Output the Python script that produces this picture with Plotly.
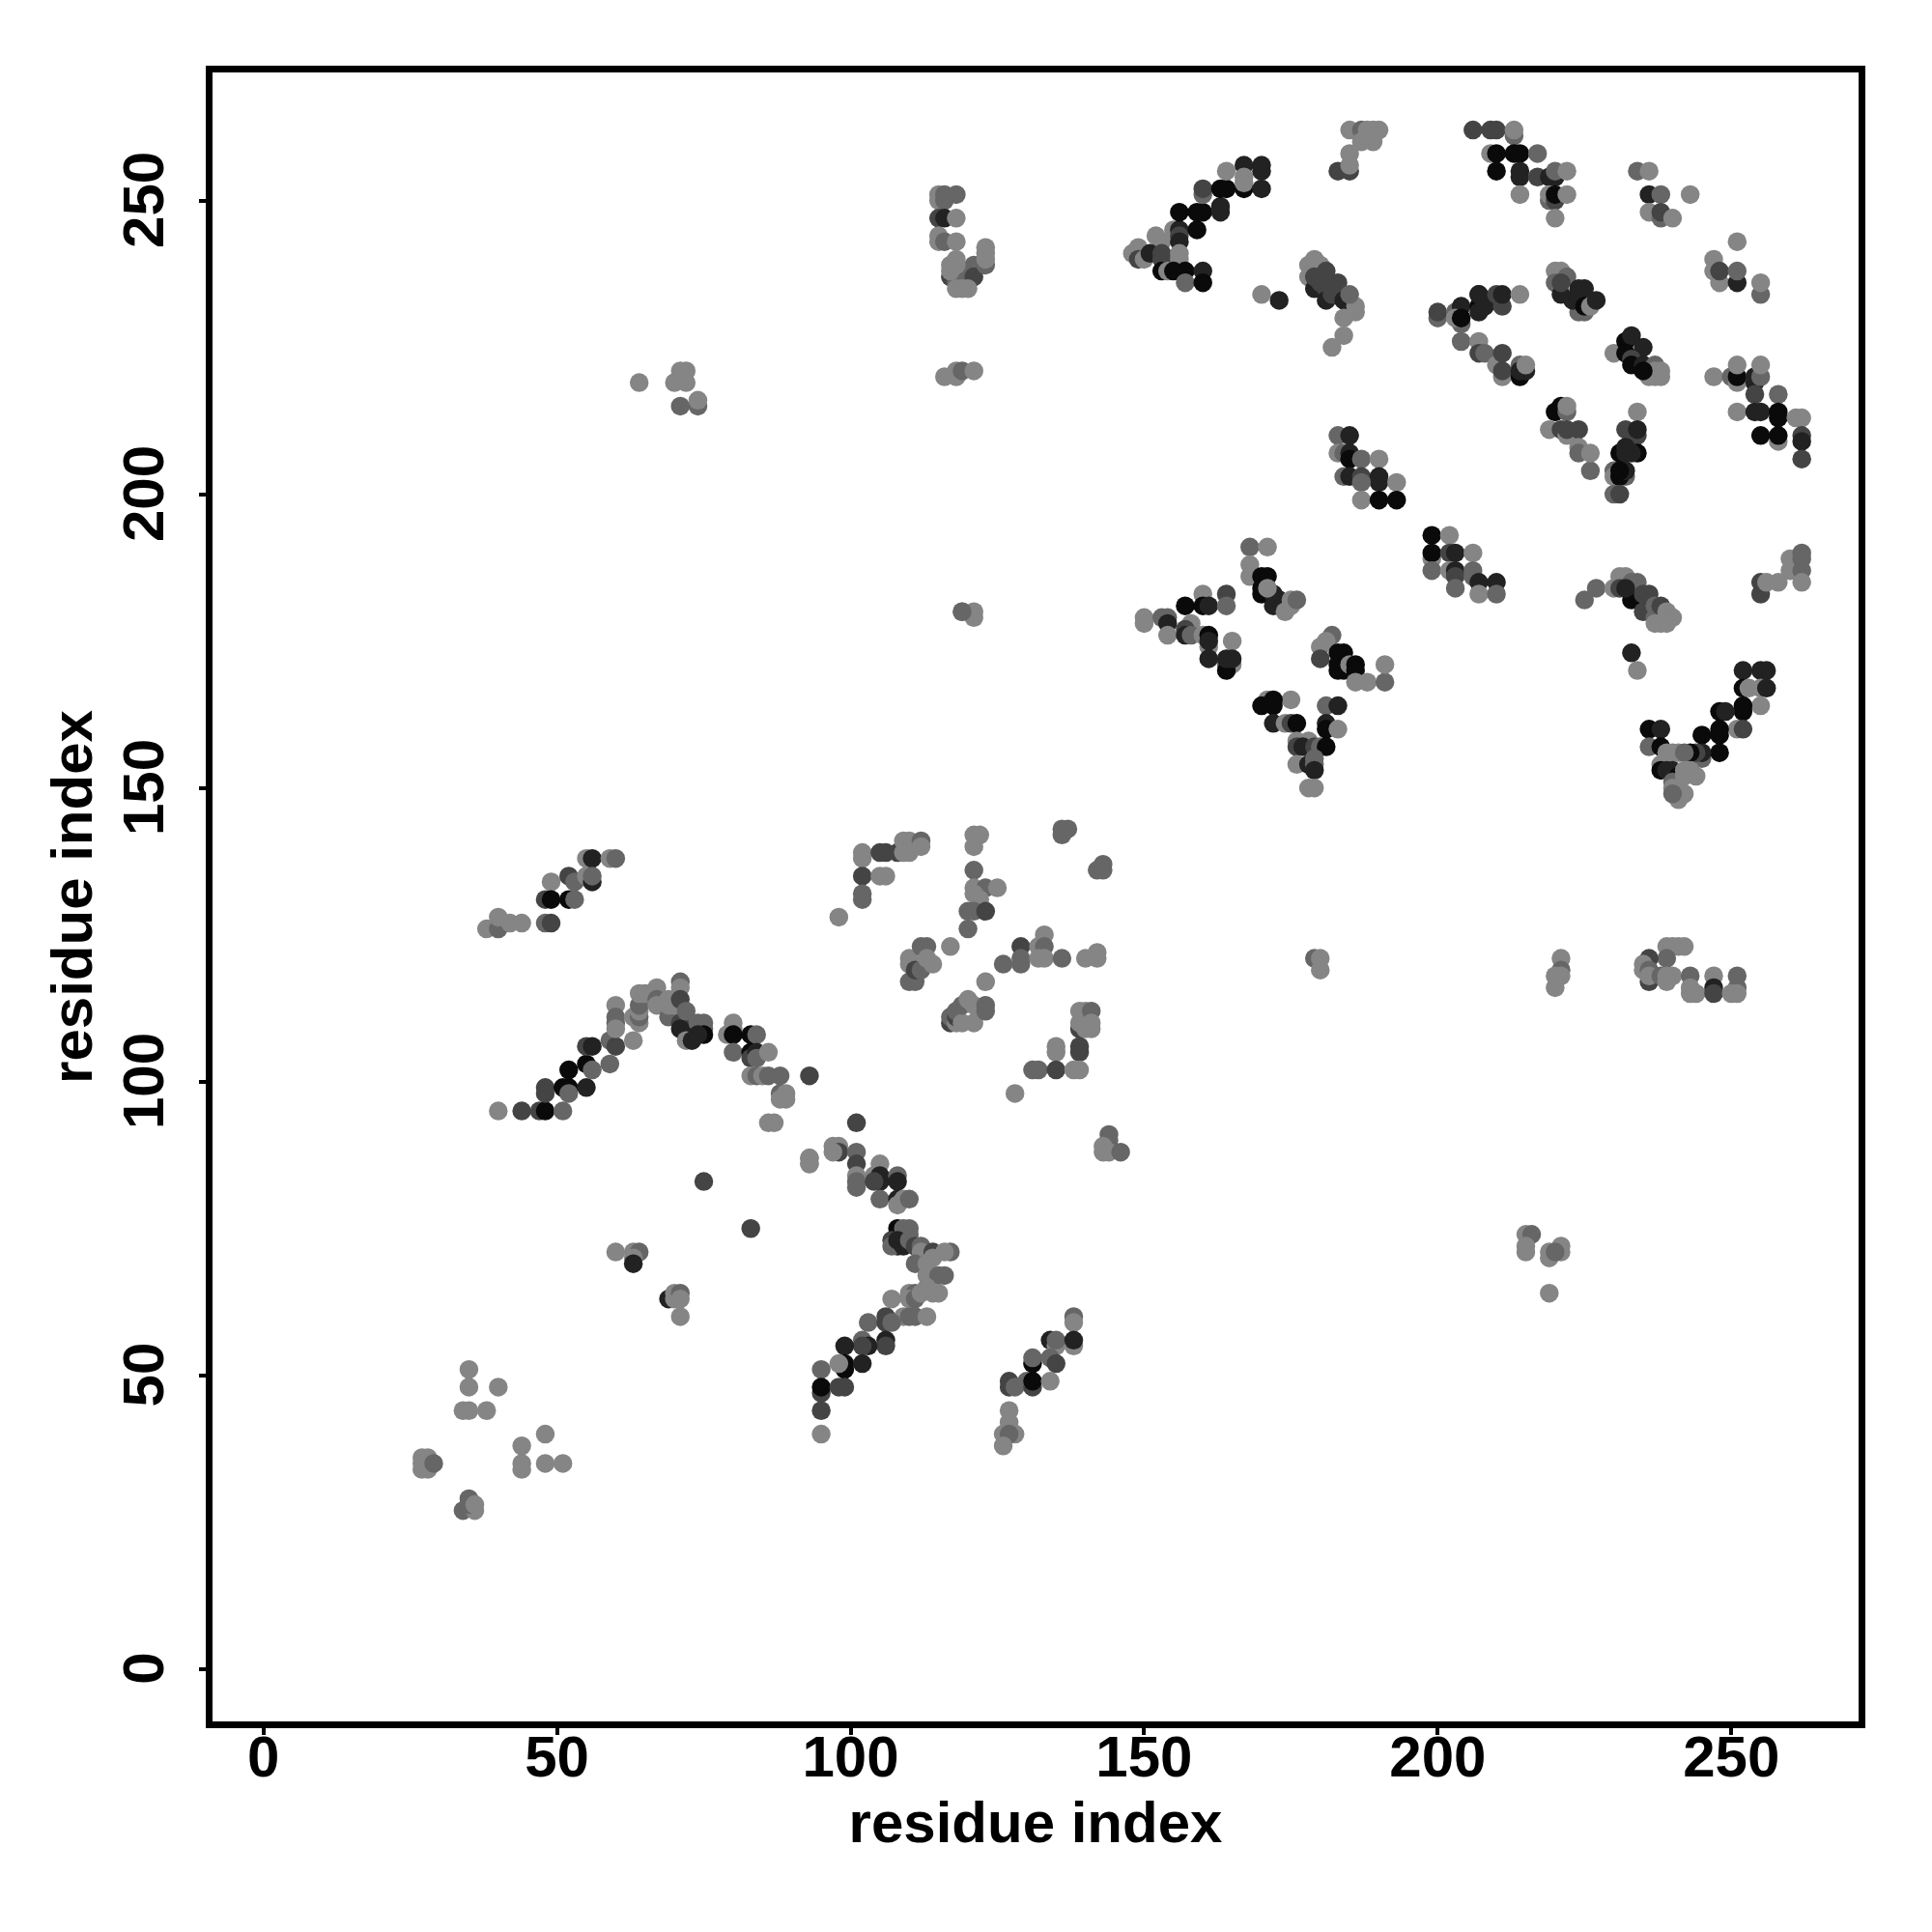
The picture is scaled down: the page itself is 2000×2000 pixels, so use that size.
import plotly.graph_objects as go

# residue pairs, by region; shade = gray level of each point (0 black .. 255 white)
a_x = [148,149,149,150,151,152,153,151,153,153,153,154,155,156,156,156,156,156,155,157,157,160,160,156,159,159,160,160,160,163,163,163,164,164,167,167,167,167,170,170,170]
a_y = [241,242,240,240,241,244,243,241,240,241,238,238,245,245,244,243,240,241,238,238,236,238,236,248,245,248,248,251,252,249,248,252,252,255,256,252,254,253,256,255,252]
a_g = [133,133,68,133,133,133,133,34,68,68,10,133,133,34,68,34,133,133,10,10,102,34,10,10,10,10,10,102,68,34,34,10,10,133,34,10,133,133,34,34,34]

b_x = [183,185,185,185,187,187,188,189,189,190,188,185,170,173]
b_y = [255,255,262,258,262,260,262,260,262,262,261,256,234,233]
b_g = [68,68,133,133,102,133,133,133,133,133,133,133,133,34]

c_x = [178,178,179,179,180,179,180,181,181,182,183,184,184,184,182,186,186,185,181]
c_y = [239,237,240,235,239,237,236,235,233,234,236,233,230,227,225,232,231,234,238]
c_g = [133,133,133,34,133,68,68,68,34,68,68,34,133,133,133,133,133,102,68]

d_x = [150,150,153,154,154,154,157,160,160,161,164,164,158,157,157,158,160,161,161,161,161,165,164,165,164,165,164]
d_y = [179,178,179,179,178,176,181,183,181,181,183,181,178,177,176,176,176,174,176,175,172,175,171,171,170,172,172]
d_g = [133,133,102,102,34,133,10,133,10,34,68,102,133,68,34,102,133,133,10,34,34,133,102,133,10,34,34]

e_x = [168,171,168,168,170,171,170,170,172,172,173,171,174,175,175,176]
e_y = [191,191,188,186,186,186,184,183,181,183,182,184,180,182,181,182]
e_g = [102,133,133,133,10,10,10,10,34,34,34,133,133,133,133,102]

f_x = [182,180,181,180,183,184,183,183,184,185,186,186,186,188,191,191]
f_y = [176,174,175,172,173,173,170,171,170,171,171,170,168,168,168,171]
f_g = [102,133,133,68,10,10,10,10,10,133,10,10,133,133,102,133]

g_x = [171,175,170,172,172,172,174,175,176,181,183,181,181,183,178,176,176,177,179,180,181,176,178,179,179,179,178,179]
g_y = [165,165,164,165,164,161,161,161,161,164,164,161,160,160,158,158,157,157,157,157,157,154,154,155,154,153,150,150]
g_g = [133,133,10,10,10,34,133,68,10,102,34,34,10,133,133,133,68,34,68,102,10,133,34,102,102,34,133,133]

h_x = [206,209,210,213,213,209,210,213,214,217,210,214,214,217,219,220,220,222,214,219,219,220,220,222,220]
h_y = [262,262,262,261,262,258,258,258,258,258,255,255,254,254,254,254,255,255,251,250,251,250,251,251,247]
h_g = [68,68,68,102,133,133,10,10,10,102,10,34,34,68,34,34,102,133,133,102,133,68,10,133,133]

i_x = [234,236,236,238,243,236,238,238,240,251,247,247,248,248,251,251,255,255]
i_y = [255,255,251,251,251,248,247,248,247,243,240,238,236,238,236,238,234,236]
i_g = [102,133,34,102,133,133,102,68,133,133,133,133,133,68,34,102,102,133]

j_x = [220,221,220,222,221,224,225,221,224,225,223,225,226,227]
j_y = [238,238,236,237,234,235,235,236,231,231,233,232,232,233]
j_g = [133,133,102,102,34,34,34,68,102,102,34,10,133,34]

k_x = [200,200,203,204,204,203,204,207,207,207,208,207,210,211,211,214]
k_y = [230,231,231,232,229,230,230,234,232,231,232,234,234,232,234,234]
k_g = [102,68,102,34,102,133,10,34,10,34,34,34,68,68,34,133]

l_x = [204,207,207,208,210,211,211,211,214,214,215,214,215]
l_y = [226,226,224,224,222,220,221,224,222,220,221,221,222]
l_g = [102,133,68,102,133,133,68,68,102,10,34,34,133]

m_x = [230,232,233,232,235,233,233,235,236,237,238,237,238,237,235]
m_y = [224,226,227,224,225,223,222,222,220,220,220,222,221,221,221]
m_g = [133,10,34,10,34,68,10,34,133,133,133,102,133,133,10]

n_x = [247,250,251,251,251,254,254,255,255,254,258,251,254,255,258,258,258,255,258,261,262,262,262,262]
n_y = [220,220,219,220,222,219,220,220,222,217,217,214,214,214,214,213,209,210,210,213,213,210,209,206]
n_g = [133,102,133,10,133,34,34,102,133,68,102,133,34,34,10,10,133,10,10,133,133,68,34,68]

o_x = [220,221,222,222,219,221,222,224,222,224,224,226,226]
o_y = [214,215,214,215,211,211,210,211,211,208,207,204,207]
o_g = [10,10,102,133,133,68,133,68,68,133,102,102,133]

p_x = [234,232,234,234,231,232,232,234,233,230,230,232,231,232,231,230,231]
p_y = [214,211,210,211,207,208,207,207,207,204,203,203,203,204,204,200,200]
p_g = [133,68,68,34,10,34,34,10,34,102,133,102,10,34,10,102,68]

q_x = [199,202,199,199,202,203,206,199,202,203,203,206,206,207,210,207,210,203]
q_y = [193,193,189,190,190,190,190,187,187,187,186,187,186,185,185,183,183,184]
q_g = [10,133,133,10,68,34,133,102,133,34,68,102,102,34,34,133,102,102]

r_x = [183,185,183,184,185,185,187,190,184,185,187,190,190,193,187,187,190,193]
r_y = [210,210,207,207,207,206,206,206,203,203,203,203,202,202,202,199,199,199]
r_g = [102,34,133,102,34,10,102,133,102,34,68,34,34,133,102,133,10,10]

s_x = [225,227,230,231,232,231,233,234,233,232,235,235,236,236,237,237,238,239,240,237,239,238]
s_y = [182,184,184,186,186,184,185,185,182,184,180,183,183,180,179,181,181,180,179,178,178,178]
s_g = [102,102,133,133,133,68,102,102,10,34,68,68,68,68,102,102,68,133,133,133,133,133]

t_x = [255,255,256,258,260,260,261,262,262,262,262,233,234]
t_y = [183,185,185,185,189,187,188,190,189,187,185,173,170]
t_g = [68,68,133,133,133,133,133,102,102,102,133,34,133]

u_x = [252,255,256,252,253,255,256,255,252,252,248,249,251,252,248,248,245,248,245,245,244,243,236,238,236,238]
u_y = [170,170,170,167,167,167,167,164,164,163,163,163,160,160,160,159,159,156,155,156,156,156,160,160,157,157]
u_g = [34,34,34,10,133,133,34,133,10,10,10,34,133,68,10,10,10,10,102,34,68,10,10,34,102,10]

v_x = [239,240,241,242,238,238,239,240,241,240,242,243,244,242,240,241,242,241,240]
v_y = [156,156,156,156,154,153,153,153,152,151,153,153,152,152,150,149,149,148,149]
v_g = [133,133,133,102,133,10,34,34,10,102,133,133,133,133,133,133,133,133,102]

w_x = [221,221,220,220,221,239,240,241,242,239,236,235,235,236,236,236,238,239,240,239]
w_y = [121,119,118,116,118,123,123,123,123,121,121,120,119,119,117,118,118,118,118,117]
w_g = [133,102,133,133,133,133,133,133,133,102,68,133,133,102,68,133,102,133,133,133]

x_x = [243,243,244,243,247,247,247,251,251,250,251]
x_y = [118,116,115,115,118,116,115,118,116,115,115]
x_g = [102,133,133,133,133,34,68,102,102,133,133]

y_x = [40,44,47,48,51,48,48,51,52,52,55,52,55,56,55,56,59,59,60,63]
y_y = [95,95,95,95,95,99,98,99,99,98,99,102,103,102,106,106,103,107,106,107]
y_g = [133,68,68,10,102,68,68,10,10,102,34,10,10,102,68,34,102,102,68,133]

z_x = [60,60,60,60,63,64,64,64,64,64,65,66,67,67,67,69,69,69,70]
z_y = [113,111,110,109,111,110,111,112,113,115,115,115,116,114,113,114,111,113,113]
z_g = [133,102,102,133,133,133,102,133,102,133,133,133,133,102,133,133,102,133,133]

aa_x = [71,71,71,71,71,72,72,72,73,74,75,75,75,74]
aa_y = [117,116,114,110,109,112,108,107,107,110,110,109,108,108]
aa_g = [102,133,68,68,34,102,34,133,34,102,102,102,10,34]

ab_x = [80,80,79,80,80,83,84,83,83,84,84,86,83,84,85,86,88,88,89,89,88,86,87,93,93,93]
ab_y = [110,109,108,108,105,108,108,105,104,105,104,105,101,101,101,101,101,98,98,97,97,93,93,101,87,86]
ab_g = [133,133,133,10,102,10,102,10,68,34,102,133,133,102,133,102,102,102,133,133,133,133,133,68,133,133]

ac_x = [75,83,60,63,64,63,63,69,70,70,71,71,71]
ac_y = [83,75,71,71,71,70,69,63,64,63,64,63,60]
ac_g = [68,68,133,133,102,133,34,34,133,133,102,133,133]

ad_x = [98,102,102,102,102,102,105,106,105,106,108,109,110,109,110,112,112]
ad_y = [128,139,138,135,132,131,139,139,135,135,139,141,141,139,139,141,140]
ad_g = [133,133,133,68,102,102,68,68,133,133,68,133,133,133,133,102,133]

ae_x = [121,122,121,121,121,123,125,121,122,120,121,123,120,117]
ae_y = [142,142,140,136,133,133,133,132,131,129,129,129,126,123]
ae_g = [133,133,133,102,133,102,133,133,133,102,102,68,102,133]

af_x = [136,137,136,143,142,143,126,129,129,129,133,132,133,132,133,136,140,142,142]
af_y = [143,143,142,137,136,136,120,123,121,120,125,123,123,121,121,121,121,122,121]
af_g = [102,102,102,102,102,102,102,68,102,102,133,133,102,133,133,102,133,133,133]

ag_x = [123,110,110,110,111,111,112,112,113,113,114]
ag_y = [117,121,120,117,117,119,119,123,123,121,120]
ag_g = [133,133,133,102,102,68,102,102,102,133,133]

ah_x = [117,117,118,118,118,119,119,120,121,121,123,123]
ah_y = [110,111,110,111,112,110,113,114,113,110,113,112]
ah_g = [68,102,133,68,102,133,102,133,133,133,102,102]

ai_x = [139,139,140,139,140,141,141,141,135,135,139,139,131,132,135,138,139,128]
ai_y = [109,110,112,112,109,109,112,110,106,105,106,105,102,102,102,102,102,98]
ai_g = [68,133,133,133,133,133,102,133,133,133,68,68,102,102,68,133,133,133]

aj_x = [144,144,143,144,146,143]
aj_y = [91,90,88,88,88,89]
aj_g = [102,102,133,133,102,133]

ak_x = [101,97,98,98,97,93,93,101,101,101,101,101,105,104,105,105,104,108,108]
ak_y = [93,89,89,88,88,87,86,88,86,84,83,82,86,84,84,83,83,84,83]
ak_g = [68,133,133,68,133,133,133,102,68,133,102,102,133,133,34,34,68,102,34]

al_x = [105,108,108,109,110,108,108,110,109,110,107,107,108,109,110,111,112,112,114,117,116]
al_y = [80,80,79,80,80,75,72,75,75,74,73,72,73,72,73,72,72,71,71,71,71]
al_g = [102,34,133,133,102,10,34,102,102,102,68,102,34,34,102,68,102,133,68,102,133]

am_x = [111,113,114,113,116,115,107,110,111,110,111,112,114,115,113]
am_y = [69,69,70,67,67,67,63,64,64,63,63,64,64,64,65]
am_g = [102,133,133,133,102,102,133,133,102,133,102,133,133,133,133]

an_x = [109,110,111,113,103,106,106,107,106,106,102,103,102,99,99,99,98,102]
an_y = [60,60,60,60,59,60,59,59,56,55,56,55,55,55,52,51,52,52]
an_g = [133,102,102,133,102,68,68,102,34,68,102,34,68,34,10,10,133,34]

ao_x = [95,95,95,98,99,95,95]
ao_y = [51,47,48,48,48,44,40]
ao_g = [102,68,10,68,68,68,133]

ap_x = [138,138,134,135,135,138,138,131,131,134,135,127,127,128,130,131,131,134]
ap_y = [60,59,56,55,56,55,56,52,53,53,52,49,48,48,49,48,49,49]
ap_g = [102,133,34,133,102,133,34,10,102,102,68,68,68,102,102,68,10,133]

aq_x = [127,127,126,128,127,126]
aq_y = [44,42,40,40,40,38]
aq_g = [133,133,133,133,102,133]

ar_x = [38,40,40,42,44,49,48,49,48,49,52,53,52,53,55,56,55,56,56,59,60]
ar_y = [126,126,128,127,127,134,131,131,127,127,135,134,131,131,138,138,135,134,135,138,138]
ar_g = [133,102,133,133,133,133,68,10,102,68,68,102,10,102,133,34,133,34,102,133,102]

as_x = [35,35,40,34,35,38,48,44,44,44,48,51,27,28,27,28,27,29,35,34,36,35,36]
as_y = [51,48,48,44,44,44,40,38,35,34,35,35,36,36,34,34,35,35,29,27,27,28,28]
as_g = [133,133,133,133,133,133,133,133,133,133,133,133,133,133,133,133,133,102,102,102,133,102,133]

at_x = [115,115,116,116,118,115,116,118,115,115,116,118]
at_y = [251,250,251,250,251,247,247,247,244,243,243,243]
at_g = [133,133,102,102,102,68,34,133,133,133,102,133]

au_x = [117,118,119,121,122,121,117,118,117,118,123,123,123,123,118,119,120,116,118,118,119,121]
au_y = [237,236,237,239,239,237,238,239,239,240,239,240,241,242,235,235,235,220,220,221,221,221]
au_g = [68,102,102,102,102,68,133,133,133,133,102,133,133,133,133,133,133,133,133,133,102,133]

av_x = [64,70,72,71,72,71,74,74,119,121,121,119,179,180,180,215,216,215,215,219,219,221,221,220,219]
av_y = [219,219,221,221,219,215,215,216,180,180,179,180,121,121,119,74,74,72,71,71,70,72,71,71,64]
av_g = [133,133,133,133,133,102,102,133,133,133,133,102,102,133,133,133,102,133,133,133,133,133,133,102,133]

regions = [
    (a_x,a_y,a_g),(b_x,b_y,b_g),(c_x,c_y,c_g),(d_x,d_y,d_g),(e_x,e_y,e_g),(f_x,f_y,f_g),(g_x,g_y,g_g),
    (h_x,h_y,h_g),(i_x,i_y,i_g),(j_x,j_y,j_g),(k_x,k_y,k_g),(l_x,l_y,l_g),(m_x,m_y,m_g),(n_x,n_y,n_g),
    (o_x,o_y,o_g),(p_x,p_y,p_g),(q_x,q_y,q_g),(r_x,r_y,r_g),(s_x,s_y,s_g),(t_x,t_y,t_g),(u_x,u_y,u_g),
    (v_x,v_y,v_g),(w_x,w_y,w_g),(x_x,x_y,x_g),(y_x,y_y,y_g),(z_x,z_y,z_g),(aa_x,aa_y,aa_g),(ab_x,ab_y,ab_g),
    (ac_x,ac_y,ac_g),(ad_x,ad_y,ad_g),(ae_x,ae_y,ae_g),(af_x,af_y,af_g),(ag_x,ag_y,ag_g),(ah_x,ah_y,ah_g),
    (ai_x,ai_y,ai_g),(aj_x,aj_y,aj_g),(ak_x,ak_y,ak_g),(al_x,al_y,al_g),(am_x,am_y,am_g),(an_x,an_y,an_g),
    (ao_x,ao_y,ao_g),(ap_x,ap_y,ap_g),(aq_x,aq_y,aq_g),(ar_x,ar_y,ar_g),(as_x,as_y,as_g),(at_x,at_y,at_g),
    (au_x,au_y,au_g),(av_x,av_y,av_g),
]
tick_vals = [0, 50, 100, 150, 200, 250]
axis_title = "residue index"
FONT = "Liberation Sans"

xs, ys, cs = [], [], []
for rx, ry, rg in regions:
    n = min(len(rx), len(ry), len(rg))
    xs += rx[:n]; ys += ry[:n]
    cs += [f"rgb({v},{v},{v})" for v in rg[:n]]

fig = go.Figure(go.Scatter(x=xs, y=ys, mode="markers",
                           marker=dict(size=19.5, color=cs, line=dict(width=0))))
common = dict(tickvals=tick_vals,
              ticks="outside", ticklen=7, tickwidth=4, tickcolor="black",
              showline=True, mirror=True, linewidth=6.5, linecolor="black",
              showgrid=False, zeroline=False,
              tickfont=dict(family=FONT, size=60, color="black", weight="bold"))
title_font = dict(family=FONT, size=60, color="black", weight="bold")
fig.update_xaxes(range=[-8.67, 271.68], ticklabelstandoff=-29,
                 ticktext=[str(v) for v in tick_vals],
                 title=dict(text=axis_title, standoff=17, font=title_font), **common)
fig.update_yaxes(range=[-8.91, 271.8], tickangle=-90, ticklabelstandoff=13,
                 ticktext=[str(v) + "\u00a0" for v in tick_vals],
                 title=dict(text=axis_title, standoff=3, font=title_font), **common)
fig.update_layout(width=2000, height=2000, autosize=False,
                  margin=dict(l=212, r=83.5, t=67, b=226, autoexpand=False),
                  paper_bgcolor="white", plot_bgcolor="white", showlegend=False)
fig.write_html("out.html")
